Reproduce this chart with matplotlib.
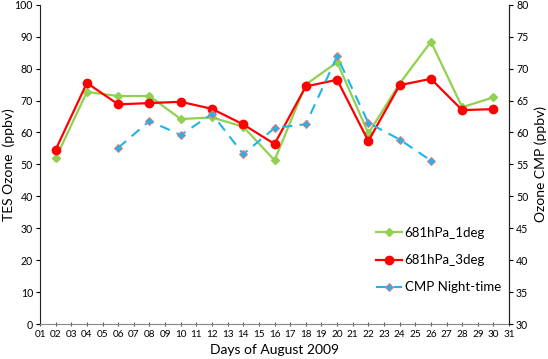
import matplotlib
matplotlib.use("Agg")
import matplotlib.pyplot as plt

plt.rcParams['font.family'] = ['Lato', 'DejaVu Sans']

# TES ozone at 681 hPa (left axis, ppbv)
days_tes = [2, 4, 6, 8, 10, 12, 14, 16, 18, 20, 22, 24, 26, 28, 30]
tes_1deg = [51.9, 72.7, 71.4, 71.4, 64.2, 64.7, 61.8, 51.3, 75.0, 82.0, 59.7, 75.3, 88.4, 67.9, 71.0]
tes_3deg = [54.6, 75.5, 68.8, 69.2, 69.6, 67.4, 62.5, 56.4, 74.4, 76.5, 57.3, 74.8, 76.8, 67.0, 67.3]

# CMP night-time ozone (right axis, ppbv)
days_cmp = [6, 8, 10, 12, 14, 16, 18, 20, 22, 24, 26]
cmp_night = [57.6, 61.8, 59.6, 62.9, 56.6, 60.7, 61.3, 71.9, 61.5, 58.9, 55.6]

day_labels = ['%02d' % d for d in range(1, 32)]

fig = plt.figure(figsize=(5.48, 3.59), dpi=100)
ax = fig.add_axes([0.073, 0.097, 0.856, 0.890])
ax2 = ax.twinx()

l1, = ax.plot(days_tes, tes_1deg, color='#92d050', lw=1.6, marker='D', ms=4,
              label='681hPa_1deg', zorder=3)
l2, = ax.plot(days_tes, tes_3deg, color='#ff0000', lw=1.6, marker='o', ms=6,
              label='681hPa_3deg', zorder=4)
l3, = ax2.plot(days_cmp, cmp_night, color='#1fb4ea', lw=1.5, ls=(0, (5, 3.5)),
               marker='D', ms=4.2, mfc='#1fb4ea', mec='#e0787a', mew=0.7,
               label='CMP Night-time')

ax.set_xlim(1, 31)
ax.set_ylim(0, 100)
ax2.set_ylim(30, 80)
ax.set_xticks(range(1, 32))
ax.set_xticklabels(day_labels, fontsize=7.2)
ax.set_yticks(range(0, 101, 10))
ax2.set_yticks(range(30, 81, 5))
ax.tick_params(axis='y', labelsize=7.6, length=3, direction='out', width=0.8, pad=2)
ax2.tick_params(axis='y', labelsize=7.6, length=3, direction='out', width=0.8, pad=2)
ax.tick_params(axis='x', length=3, direction='inout', width=0.8, colors='#555555',
               labelcolor='black', pad=3)

for a in (ax, ax2):
    a.spines['top'].set_visible(False)
    a.patch.set_visible(False)
ax.spines['bottom'].set_color('#888888')
ax.spines['left'].set_color('#222222')
ax2.spines['right'].set_color('#222222')
ax2.spines['bottom'].set_visible(False)
ax2.spines['left'].set_visible(False)

ax.set_ylabel('TES Ozone  (ppbv)', fontsize=10)
ax2.set_ylabel('Ozone CMP (ppbv)', fontsize=10, rotation=90)
ax.yaxis.set_label_coords(-0.054, 0.5)
ax2.yaxis.set_label_coords(1.054, 0.5)
ax.set_xlabel('Days of August 2009', fontsize=10, labelpad=3)

ax2.legend(handles=[l1, l2, l3], loc='center left', bbox_to_anchor=(0.69, 0.20),
           frameon=False, fontsize=9.5, handlelength=2.0, handletextpad=0.2,
           labelspacing=1.15)

fig.savefig('out.png', dpi=100)
